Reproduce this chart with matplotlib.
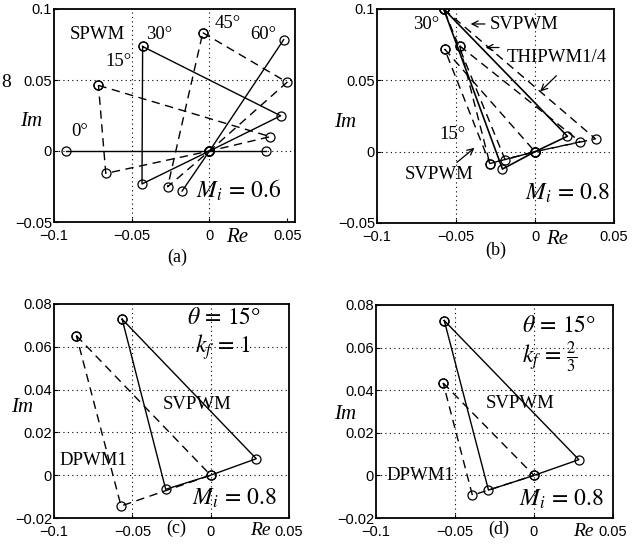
import matplotlib
matplotlib.use("Agg")
import matplotlib.pyplot as plt
from matplotlib.transforms import blended_transform_factory

plt.rcParams['font.family'] = ['Liberation Serif', 'DejaVu Serif']
plt.rcParams['mathtext.fontset'] = 'stix'
TICK_FONT = 'Liberation Sans'

# (a) SPWM, Mi = 0.6 -- one trajectory per angle
a_0_x = [-0.0925, 0.0, 0.0366]
a_0_y = [0.0, 0.0, 0.0]
a_15_x = [-0.0714, 0.0391, 0.0, -0.0667, -0.0714]
a_15_y = [0.0462, 0.0101, 0.0, -0.0158, 0.0462]
a_30_x = [-0.0430, 0.0458, 0.0, -0.0434, -0.0430]
a_30_y = [0.0736, 0.0248, 0.0, -0.0232, 0.0736]
a_45_x = [-0.0043, 0.0499, 0.0, -0.0269, -0.0043]
a_45_y = [0.0833, 0.0484, 0.0, -0.0252, 0.0833]
a_60_x = [0.0477, 0.0, -0.0176]
a_60_y = [0.0784, 0.0, -0.0282]

# (b) SVPWM / THIPWM1/4, Mi = 0.8
b_sv30_x = [-0.0578, 0.0205, 0.0, -0.0206, -0.0578]
b_sv30_y = [0.1000, 0.0108, 0.0, -0.0122, 0.1000]
b_thi30_x = [-0.0578, 0.0383, 0.0, -0.0190, -0.0578]
b_thi30_y = [0.1000, 0.0090, 0.0, -0.0055, 0.1000]
b_sv15_x = [-0.0477, 0.0286, 0.0, -0.0286, -0.0477]
b_sv15_y = [0.0742, 0.0069, 0.0, -0.0083, 0.0742]
b_thi15_x = [-0.0572, 0.0, -0.0286, -0.0572]
b_thi15_y = [0.0719, 0.0, -0.0083, 0.0719]

# (c) theta = 15deg, kf = 1
c_sv_x = [-0.0565, 0.0291, 0.0, -0.0287, -0.0565]
c_sv_y = [0.0729, 0.0077, 0.0, -0.0066, 0.0729]
c_dp_x = [-0.0857, 0.0, -0.0572, -0.0857]
c_dp_y = [0.0652, 0.0, -0.0144, 0.0652]

# (d) theta = 15deg, kf = 2/3
d_sv_x = [-0.0568, 0.0284, 0.0, -0.0288, -0.0568]
d_sv_y = [0.0727, 0.0074, 0.0, -0.0069, 0.0727]
d_dp_x = [-0.0575, 0.0, -0.0390, -0.0575]
d_dp_y = [0.0434, 0.0, -0.0093, 0.0434]

x_ticks = [-0.1, -0.05, 0, 0.05]
x_labels = ['\u22120.1', '\u22120.05', '0', '0.05']
y_ticks_top = [-0.05, 0, 0.05, 0.1]
y_labels_top = ['\u22120.05', '0', '0.05', '0.1']
y_ticks_bot = [-0.02, 0, 0.02, 0.04, 0.06, 0.08]
y_labels_bot = ['\u22120.02', '0', '0.02', '0.04', '0.06', '0.08']

DASH = (0, (6, 4))
LBL = 13.5   # plain text labels
MATH = 17    # M_i, theta, k_f
AX_LBL = 15  # Im / Re
DEG = '\u00b0'


def traj(ax, x, y, ls='-', lw=1.0):
    ax.plot(x, y, color='black', ls=ls, lw=lw, marker='o', ms=6.5,
            mfc='none', mec='black', mew=0.9)


def setup(ax, xlim, ylim, yt, yl, grid_x, grid_y):
    ax.set_xlim(*xlim)
    ax.set_ylim(*ylim)
    ax.set_xticks(x_ticks)
    ax.set_xticklabels(x_labels, fontfamily=TICK_FONT, fontsize=10.5)
    ax.set_yticks(yt)
    ax.set_yticklabels(yl, fontfamily=TICK_FONT, fontsize=10.5)
    ax.tick_params(direction='in', length=3, width=0.8)
    ax.tick_params(axis='x', pad=5)
    ax.tick_params(axis='y', pad=1.5)
    for g in grid_x:
        ax.axvline(g, color='black', lw=0.8, ls=(0, (1, 3)), zorder=0)
    for g in grid_y:
        ax.axhline(g, color='black', lw=0.8, ls=(0, (1, 3)), zorder=0)
    for s in ax.spines.values():
        s.set_linewidth(1.3)


def arrow(ax, tail, tip):
    ax.annotate('', xy=tip, xytext=tail,
                arrowprops=dict(arrowstyle='->', color='black', lw=0.9,
                                mutation_scale=11))


fig = plt.figure(figsize=(6.4, 5.52), dpi=100)
W, H = 640.0, 552.0


def add_ax(l, r, t, b):
    return fig.add_axes([l / W, 1 - b / H, (r - l) / W, (b - t) / H])


axa = add_ax(54, 295, 9, 222)
axb = add_ax(377, 614, 9, 223)
axc = add_ax(54, 289, 304, 518)
axd = add_ax(376, 613, 305, 518)

# ---- (a)
ax = axa
setup(ax, (-0.1, 0.055), (-0.05, 0.1), y_ticks_top, y_labels_top, [-0.05, 0], [0, 0.05])
traj(ax, a_0_x, a_0_y)
traj(ax, a_15_x, a_15_y, ls=DASH)
traj(ax, a_30_x, a_30_y)
traj(ax, a_45_x, a_45_y, ls=DASH)
traj(ax, a_60_x, a_60_y)
ax.text(-0.090, 0.082, 'SPWM', fontsize=LBL, va='center')
ax.text(-0.041, 0.082, '30' + DEG, fontsize=LBL, va='center')
ax.text(0.003, 0.090, '45' + DEG, fontsize=LBL, va='center')
ax.text(0.026, 0.082, '60' + DEG, fontsize=LBL, va='center')
ax.text(-0.067, 0.063, '15' + DEG, fontsize=LBL, va='center')
ax.text(-0.089, 0.0135, '0' + DEG, fontsize=LBL, va='center')
ax.text(-0.0085, -0.028, r'$M_i\,=\,0.6$', fontsize=MATH, va='center')
ax.text(-0.197, 0.657, '8', fontsize=14, va='center', ha='center', transform=ax.transAxes)
ax.text(-0.093, 0.47, 'Im', fontsize=AX_LBL, style='italic', va='center', ha='center',
        transform=ax.transAxes)
tr = blended_transform_factory(ax.transData, ax.transAxes)
ax.text(0.0176, -0.075, 'Re', fontsize=AX_LBL, style='italic', va='center', ha='center',
        transform=tr)
ax.text(0.51, -0.168, '(a)', fontsize=13, va='center', ha='center', transform=ax.transAxes)

# ---- (b)
ax = axb
setup(ax, (-0.1, 0.05), (-0.05, 0.1), y_ticks_top, y_labels_top, [-0.05, 0], [0, 0.05])
traj(ax, b_thi30_x, b_thi30_y, ls=DASH)
traj(ax, b_sv15_x, b_sv15_y, ls=DASH)
traj(ax, b_thi15_x, b_thi15_y, ls=DASH)
traj(ax, b_sv30_x, b_sv30_y, lw=1.2)
ax.text(-0.0773, 0.089, '30' + DEG, fontsize=LBL, va='center')
ax.text(-0.0286, 0.089, 'SVPWM', fontsize=LBL, va='center')
arrow(ax, (-0.0300, 0.0895), (-0.0425, 0.0895))
ax.text(-0.018, 0.066, 'THIPWM1/4', fontsize=LBL, va='center')
arrow(ax, (-0.021, 0.073), (-0.033, 0.073))
arrow(ax, (0.0148, 0.0546), (0.002, 0.0408))
ax.text(-0.0604, 0.012, '15' + DEG, fontsize=LBL, va='center')
ax.text(-0.0826, -0.0157, 'SVPWM', fontsize=LBL, va='center')
arrow(ax, (-0.0508, -0.0088), (-0.037, 0.0039))
ax.text(-0.0064, -0.0295, r'$M_i\,=\,0.8$', fontsize=MATH, va='center')
ax.text(-0.134, 0.47, 'Im', fontsize=AX_LBL, style='italic', va='center', ha='center',
        transform=ax.transAxes)
tr = blended_transform_factory(ax.transData, ax.transAxes)
ax.text(0.014, -0.075, 'Re', fontsize=AX_LBL, style='italic', va='center', ha='center',
        transform=tr)
ax.text(0.50, -0.13, '(b)', fontsize=13, va='center', ha='center', transform=ax.transAxes)

# ---- (c)
ax = axc
setup(ax, (-0.1, 0.05), (-0.02, 0.08), y_ticks_bot, y_labels_bot, [-0.05, 0],
      [0, 0.02, 0.04, 0.06])
traj(ax, c_dp_x, c_dp_y, ls=DASH)
traj(ax, c_sv_x, c_sv_y)
ax.text(-0.0154, 0.0733, r'$\theta\,=\,15$' + DEG, fontsize=MATH, va='center')
ax.text(-0.0100, 0.0600, r'$k_f\,=\,1$', fontsize=MATH, va='center')
ax.text(-0.0304, 0.0330, 'SVPWM', fontsize=LBL, va='center')
ax.text(-0.0968, 0.0069, 'DPWM1', fontsize=LBL, va='center')
ax.text(-0.0116, -0.0108, r'$M_i\,=\,0.8$', fontsize=MATH, va='center')
ax.text(-0.137, 0.518, 'Im', fontsize=AX_LBL, style='italic', va='center', ha='center',
        transform=ax.transAxes)
tr = blended_transform_factory(ax.transData, ax.transAxes)
ax.text(0.032, -0.06, 'Re', fontsize=AX_LBL - 1, style='italic', va='center', ha='center',
        transform=tr)
ax.text(-0.022, -0.05, '(c)', fontsize=13, va='center', ha='center', transform=tr)

# ---- (d)
ax = axd
setup(ax, (-0.1, 0.05), (-0.02, 0.08), y_ticks_bot, y_labels_bot, [-0.05, 0],
      [0, 0.02, 0.04, 0.06])
traj(ax, d_dp_x, d_dp_y, ls=DASH)
traj(ax, d_sv_x, d_sv_y)
ax.text(-0.0074, 0.0700, r'$\theta\,=\,15$' + DEG, fontsize=MATH, va='center')
ax.text(-0.0074, 0.0553, r'$k_f\,=\,\frac{2}{3}$', fontsize=MATH, va='center')
ax.text(-0.0305, 0.0337, 'SVPWM', fontsize=LBL, va='center')
ax.text(-0.0937, 0.0, 'DPWM1', fontsize=LBL, va='center')
ax.text(-0.0095, -0.0111, r'$M_i\,=\,0.8$', fontsize=MATH, va='center')
ax.text(-0.13, 0.485, 'Im', fontsize=AX_LBL, style='italic', va='center', ha='center',
        transform=ax.transAxes)
tr = blended_transform_factory(ax.transData, ax.transAxes)
ax.text(0.031, -0.065, 'Re', fontsize=AX_LBL - 1, style='italic', va='center', ha='center',
        transform=tr)
ax.text(-0.022, -0.055, '(d)', fontsize=13, va='center', ha='center', transform=tr)

fig.savefig('out.png', dpi=100)
